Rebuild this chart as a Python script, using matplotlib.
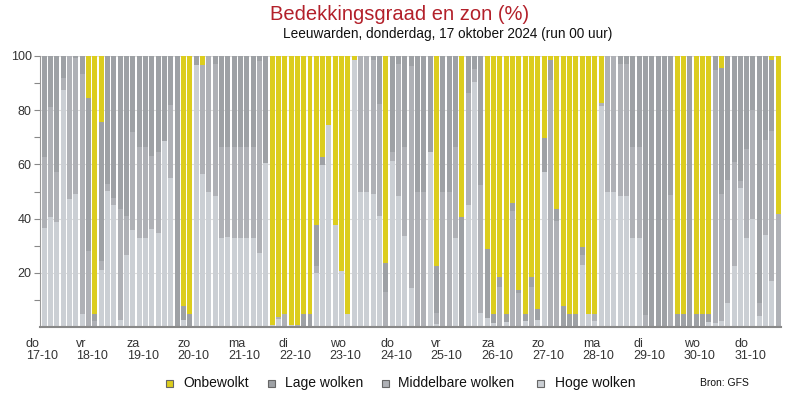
import matplotlib
matplotlib.use("Agg")
import matplotlib.pyplot as plt
from matplotlib.patches import Rectangle
import numpy as np

plt.rcParams['font.family'] = ['Liberation Sans', 'DejaVu Sans']

# 3-hourly bars, 17-10 00 uur onwards (percentages)
hoge = [36.7, 40.6, 38.7, 87.5, 47.2, 49.1, 4.9, 0.4, 0, 21.0,
        50.3, 45.0, 2.6, 26.6, 35.8, 32.8, 32.8, 36.2, 34.7, 68.6,
        55.0, 0, 2.6, 0, 96.7, 56.5, 49.8, 48.3, 32.8, 33.2,
        32.8, 32.8, 32.8, 32.8, 27.3, 60.5, 0.7, 3.0, 0, 0.7,
        0, 0, 0, 19.9, 59.8, 74.5, 37.6, 20.7, 4.9, 98.5,
        49.8, 49.8, 49.1, 41.0, 0, 61.3, 48.3, 33.6, 14.4, 0,
        0, 64.6, 1.1, 0, 0, 32.8, 0, 45.0, 90.4, 5.2,
        3.3, 1.5, 0, 1.8, 0, 0, 2.2, 0, 2.6, 57.2,
        0, 0, 0, 0, 0, 22.9, 4.8, 2.2, 81.5, 49.8,
        49.8, 48.3, 48.3, 32.8, 32.8, 0, 0, 0, 0, 0,
        0, 0, 0, 0, 0, 1.8, 1.5, 2.2, 8.9, 22.5,
        51.3, 32.8, 39.9, 4.1, 33.9, 17.0, 0]

middel = [26.0, 40.6, 18.5, 4.4, 52.8, 50.0, 88.5, 27.6, 2.2, 3.4,
          2.5, 2.6, 40.9, 14.4, 36.2, 33.6, 33.6, 26.9, 29.9, 0,
          27.0, 0, 0, 0, 0, 40.2, 50.2, 48.7, 33.6, 33.2,
          33.6, 33.6, 33.6, 33.6, 70.9, 0, 0, 0.7, 4.9, 0,
          0.7, 0, 0, 2.6, 0, 0, 0, 0, 0, 0,
          50.2, 50.2, 49.4, 41.3, 12.9, 3.3, 48.7, 32.8, 81.9, 49.8,
          49.8, 0, 4.1, 49.8, 49.8, 33.6, 0, 41.3, 4.8, 47.2,
          0, 0, 14.8, 0, 42.8, 12.5, 0, 14.8, 0, 0,
          91.1, 39.1, 0, 0, 0, 3.7, 0, 2.6, 1.2, 50.2,
          50.2, 48.7, 48.7, 33.6, 33.6, 4.4, 0, 0, 0, 48.7,
          0, 0, 0, 0, 0, 0, 93.3, 46.9, 45.3, 38.4,
          2.6, 32.9, 40.2, 4.8, 35.1, 55.3, 41.7]

lage = [37.3, 18.8, 42.8, 8.1, 0, 0.9, 6.6, 56.6, 2.7, 51.2,
        47.2, 52.4, 56.5, 59.0, 28.0, 33.6, 33.6, 36.9, 35.4, 31.4,
        18.0, 100, 5.1, 4.9, 3.3, 0, 0, 3.0, 33.6, 33.6,
        33.6, 33.6, 33.6, 33.6, 1.8, 39.5, 0, 0, 0, 0,
        0, 4.9, 4.9, 15.1, 2.9, 0, 0, 0, 0, 0,
        0, 0, 1.5, 17.7, 10.7, 35.4, 3.0, 33.6, 3.7, 50.2,
        50.2, 35.4, 17.3, 50.2, 50.2, 33.6, 40.6, 13.7, 4.8, 47.6,
        25.5, 3.3, 3.7, 3.0, 3.0, 1.2, 2.6, 3.7, 4.0, 12.5,
        7.4, 4.4, 7.7, 4.8, 4.8, 2.9, 0, 0, 0, 0,
        0, 3.0, 3.0, 33.6, 33.6, 95.6, 100, 100, 100, 51.3,
        4.8, 4.8, 100, 4.8, 4.8, 3.0, 5.2, 46.5, 45.8, 39.1,
        46.1, 34.3, 19.9, 91.1, 31.0, 26.2, 0]

onbewolkt = [0, 0, 0, 0, 0, 0, 0, 15.4, 95.1, 24.4,
             0, 0, 0, 0, 0, 0, 0, 0, 0, 0,
             0, 0, 92.3, 95.1, 0, 3.3, 0, 0, 0, 0,
             0, 0, 0, 0, 0, 0, 99.3, 96.3, 95.1, 99.3,
             99.3, 95.1, 95.1, 62.4, 37.3, 25.5, 62.4, 79.3, 95.1, 1.5,
             0, 0, 0, 0, 76.4, 0, 0, 0, 0, 0,
             0, 0, 77.5, 0, 0, 0, 59.4, 0, 0, 0,
             71.2, 95.2, 81.5, 95.2, 54.2, 86.3, 95.2, 81.5, 93.4, 30.3,
             1.5, 56.5, 92.3, 95.2, 95.2, 70.5, 95.2, 95.2, 17.3, 0,
             0, 0, 0, 0, 0, 0, 0, 0, 0, 0,
             95.2, 95.2, 0, 95.2, 95.2, 95.2, 0, 4.4, 0, 0,
             0, 0, 0, 0, 0, 1.5, 58.3]

dagen = ["do", "vr", "za", "zo", "ma", "di", "wo", "do",
         "vr", "za", "zo", "ma", "di", "wo", "do"]
datums = ["17-10", "18-10", "19-10", "20-10", "21-10", "22-10", "23-10", "24-10",
          "25-10", "26-10", "27-10", "28-10", "29-10", "30-10", "31-10"]

namen = ["Onbewolkt", "Lage wolken", "Middelbare wolken", "Hoge wolken"]

c_on = '#dccd1e'
c_lage = '#9ea1a5'
c_mid = '#afb1b6'
c_hoog = '#cbcfd4'

fig = plt.figure(figsize=(8, 4), dpi=100)
ax = fig.add_axes([0.05, 0.1825, 0.926, 0.6775])

x = np.arange(len(hoge))
h = np.array(hoge)
m = np.array(middel)
l = np.array(lage)
o = np.array(onbewolkt)
w = 0.79
ax.bar(x, h, w, align='edge', color=c_hoog, zorder=2)
ax.bar(x, m, w, bottom=h, align='edge', color=c_mid, zorder=2)
ax.bar(x, l, w, bottom=h + m, align='edge', color=c_lage, zorder=2)
ax.bar(x, o, w, bottom=h + m + l, align='edge', color=c_on, zorder=2)

ax.set_xlim(-0.27, len(hoge) - 1 + w)
ax.set_ylim(0, 100)
ax.set_yticks([20, 40, 60, 80, 100])
ax.set_yticks(range(10, 101, 10), minor=True)
ax.tick_params(axis='y', which='both', length=4, width=0.8, color='#888888',
               labelsize=9, labelcolor='#333333', pad=2)
ax.set_xticks(np.arange(len(dagen)) * 8)
ax.set_xticklabels([d + "\n" + t for d, t in zip(dagen, datums)],
                   multialignment='left', fontsize=9, color='#333333',
                   linespacing=1.0)
ax.tick_params(axis='x', length=0, pad=8)

ax.yaxis.grid(True, color='#dddddd', linewidth=0.8, zorder=0)
ax.set_axisbelow(True)
for s in ['top', 'right']:
    ax.spines[s].set_visible(False)
ax.spines['left'].set_color('#999999')
ax.spines['left'].set_linewidth(0.8)
ax.spines['bottom'].set_color('#888888')
ax.spines['bottom'].set_linewidth(1.5)

fig.text(0.5, 0.965, "Bedekkingsgraad en zon (%)", ha='center', va='center',
         fontsize=14.5, color='#b3202a')
fig.text(0.56, 0.915, "Leeuwarden, donderdag, 17 oktober 2024 (run 00 uur)",
         ha='center', va='center', fontsize=9.8, color='#111111')

# legend drawn by hand
kleuren = [c_on, c_lage, c_mid, c_hoog]
vak_x = [166, 268, 382, 537]
tekst_x = [183, 285, 398, 555]
for k, vx, tx, naam in zip(kleuren, vak_x, tekst_x, namen):
    fig.patches.append(Rectangle((vx / 800, 1 - 387 / 400), 7 / 800, 7 / 400,
                                 transform=fig.transFigure, facecolor=k,
                                 edgecolor='#666666', linewidth=0.8))
    fig.text(tx / 800, 1 - 383 / 400, naam, ha='left', va='center',
             fontsize=10, color='#111111')
fig.text(700 / 800, 1 - 383 / 400, "Bron: GFS", ha='left', va='center',
         fontsize=7.5, color='#111111')

fig.savefig("out.png", dpi=100)
